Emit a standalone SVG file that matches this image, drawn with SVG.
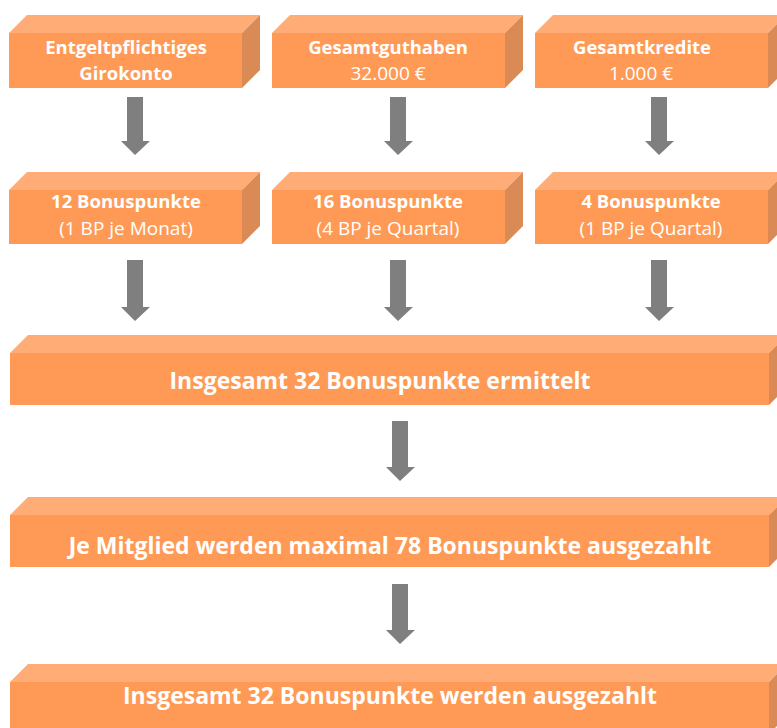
<svg xmlns="http://www.w3.org/2000/svg" width="777" height="728" viewBox="0 0 777 728">
<defs>
<style>
.front{fill:#FF9A56}
.top{fill:#FFAC76}
.side{fill:#DA8A55}
.arr{fill:#7F7F7F}
text{font-family:"Open Sans","Noto Sans",sans-serif;fill:#FFFFFF;text-anchor:middle}
.b{font-weight:bold;font-size:18.5px}
.r{font-size:19px}
.bb{font-weight:bold;font-size:23px}
</style>
</defs>
<rect width="777" height="728" fill="#FFFFFF"/>
<g id="n1">
<polygon class="top" points="9,33 27,15 260,15 242,33"/>
<polygon class="side" points="242,33 260,15 260,70 242,88"/>
<rect class="front" x="9" y="33" width="233" height="55"/>
<text class="b" x="126" y="54">Entgeltpflichtiges</text>
<text class="b" x="126" y="80">Girokonto</text>
</g>
<g id="n2">
<polygon class="top" points="272,33 290,15 523,15 505,33"/>
<polygon class="side" points="505,33 523,15 523,70 505,88"/>
<rect class="front" x="272" y="33" width="233" height="55"/>
<text class="b" x="388" y="54">Gesamtguthaben</text>
<text class="r" x="388" y="80">32.000 €</text>
</g>
<g id="n3">
<polygon class="top" points="535,33 553,15 786,15 768,33"/>
<polygon class="side" points="768,33 786,15 786,70 768,88"/>
<rect class="front" x="535" y="33" width="233" height="55"/>
<text class="b" x="642" y="54">Gesamtkredite</text>
<text class="r" x="641" y="80">1.000 €</text>
</g>
<g id="n4">
<polygon class="top" points="9,190 27,172 260,172 242,190"/>
<polygon class="side" points="242,190 260,172 260,226 242,244"/>
<rect class="front" x="9" y="190" width="233" height="54"/>
<text class="b" x="126" y="208">12 Bonuspunkte</text>
<text class="r" x="126" y="235">(1 BP je Monat)</text>
</g>
<g id="n5">
<polygon class="top" points="272,190 290,172 523,172 505,190"/>
<polygon class="side" points="505,190 523,172 523,226 505,244"/>
<rect class="front" x="272" y="190" width="233" height="54"/>
<text class="b" x="388" y="208">16 Bonuspunkte</text>
<text class="r" x="388" y="235">(4 BP je Quartal)</text>
</g>
<g id="n6">
<polygon class="top" points="535,190 553,172 786,172 768,190"/>
<polygon class="side" points="768,190 786,172 786,226 768,244"/>
<rect class="front" x="535" y="190" width="233" height="54"/>
<text class="b" x="651" y="208">4 Bonuspunkte</text>
<text class="r" x="651" y="235">(1 BP je Quartal)</text>
</g>
<g id="n7">
<polygon class="top" points="10,353 28,335 787,335 769,353"/>
<polygon class="side" points="769,353 787,335 787,387 769,405"/>
<rect class="front" x="10" y="353" width="759" height="52"/>
<text class="bb" x="380" y="389">Insgesamt 32 Bonuspunkte ermittelt</text>
</g>
<g id="n8">
<polygon class="top" points="10,515 28,497 787,497 769,515"/>
<polygon class="side" points="769,515 787,497 787,549 769,567"/>
<rect class="front" x="10" y="515" width="759" height="52"/>
<text class="bb" x="390" y="554">Je Mitglied werden maximal 78 Bonuspunkte ausgezahlt</text>
</g>
<g id="n9">
<polygon class="top" points="10,682 28,664 787,664 769,682"/>
<polygon class="side" points="769,682 787,664 787,716 769,734"/>
<rect class="front" x="10" y="682" width="759" height="52"/>
<text class="bb" x="390" y="704">Insgesamt 32 Bonuspunkte werden ausgezahlt</text>
</g>
<g id="connectors">
<polygon class="arr" points="127,97 143,97 143,141 150,141 135,155 121,141 127,141"/>
<polygon class="arr" points="390,97 406,97 406,141 413,141 398,155 384,141 390,141"/>
<polygon class="arr" points="651,97 667,97 667,141 674,141 659,155 645,141 651,141"/>
<polygon class="arr" points="127,260 143,260 143,307 150,307 135,321 121,307 127,307"/>
<polygon class="arr" points="390,260 406,260 406,307 413,307 398,321 384,307 390,307"/>
<polygon class="arr" points="651,260 667,260 667,307 674,307 659,321 645,307 651,307"/>
<polygon class="arr" points="392,421 408,421 408,467 415,467 400,481 386,467 392,467"/>
<polygon class="arr" points="392,584 408,584 408,630 415,630 400,644 386,630 392,630"/>
</g>
</svg>
